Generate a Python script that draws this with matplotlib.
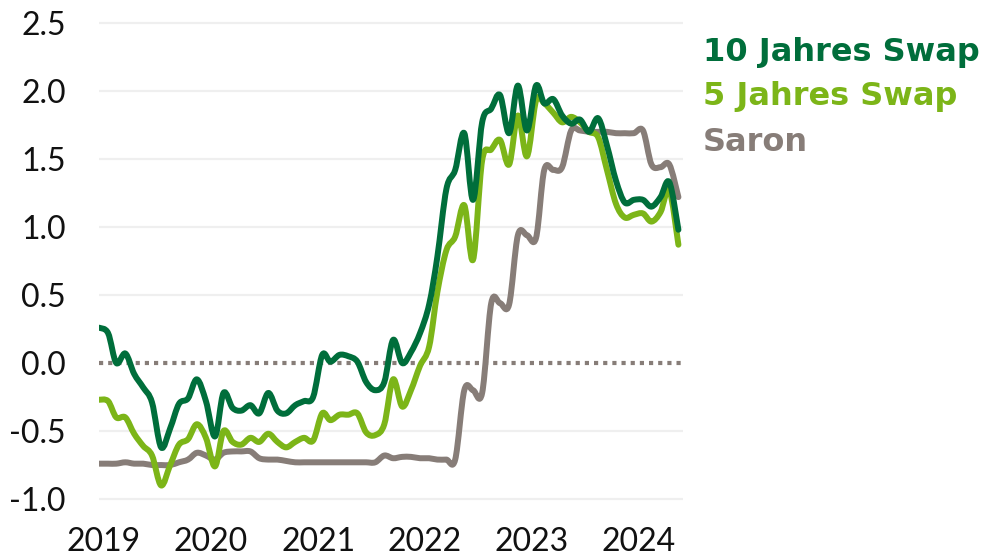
import matplotlib
matplotlib.use("Agg")
import matplotlib.pyplot as plt
import matplotlib.dates as mdates
import matplotlib.transforms as mtransforms
from matplotlib.path import Path
from matplotlib.patches import PathPatch
import numpy as np
import pandas as pd

plt.rcParams['axes.unicode_minus'] = False

# monthly values, Jan 2019 - Jun 2024
dates = pd.date_range('2019-01-01', periods=66, freq='MS')

swap_10y = [0.26, 0.22, 0.00, 0.07, -0.08, -0.18, -0.29, -0.62, -0.48, -0.30,
            -0.26, -0.12, -0.28, -0.54, -0.22, -0.33, -0.35, -0.31, -0.37, -0.22,
            -0.35, -0.37, -0.31, -0.28, -0.25, 0.06, 0.01, 0.06, 0.05, 0.01,
            -0.14, -0.20, -0.14, 0.17, 0.00, 0.08, 0.22, 0.43, 0.78, 1.28,
            1.42, 1.69, 1.20, 1.77, 1.87, 1.97, 1.69, 2.04, 1.71, 2.04,
            1.91, 1.94, 1.82, 1.76, 1.79, 1.70, 1.80, 1.60, 1.34, 1.18,
            1.20, 1.20, 1.15, 1.22, 1.33, 0.98]

swap_5y = [-0.27, -0.28, -0.40, -0.40, -0.52, -0.61, -0.68, -0.90, -0.75, -0.60,
           -0.56, -0.45, -0.55, -0.76, -0.50, -0.58, -0.60, -0.55, -0.58, -0.52,
           -0.58, -0.62, -0.58, -0.55, -0.57, -0.37, -0.42, -0.38, -0.38, -0.37,
           -0.51, -0.53, -0.45, -0.12, -0.32, -0.20, -0.02, 0.12, 0.52, 0.83,
           0.93, 1.16, 0.76, 1.49, 1.57, 1.64, 1.46, 1.82, 1.52, 1.93,
           1.91, 1.84, 1.77, 1.81, 1.77, 1.70, 1.66, 1.42, 1.17, 1.07,
           1.09, 1.10, 1.04, 1.11, 1.27, 0.87]

saron = [-0.74, -0.74, -0.74, -0.73, -0.74, -0.74, -0.75, -0.75, -0.75, -0.73,
         -0.71, -0.66, -0.68, -0.71, -0.66, -0.65, -0.65, -0.65, -0.70, -0.71,
         -0.71, -0.72, -0.73, -0.73, -0.73, -0.73, -0.73, -0.73, -0.73, -0.73,
         -0.73, -0.73, -0.68, -0.70, -0.69, -0.69, -0.70, -0.70, -0.71, -0.71,
         -0.71, -0.20, -0.20, -0.22, 0.44, 0.44, 0.43, 0.94, 0.94, 0.92,
         1.42, 1.42, 1.44, 1.71, 1.71, 1.70, 1.70, 1.70, 1.69, 1.69,
         1.69, 1.71, 1.46, 1.44, 1.46, 1.22]

labels = ['10 Jahres Swap', '5 Jahres Swap', 'Saron']
colors = ['#006E3B', '#7CB518', '#877D78']
years = [2019, 2020, 2021, 2022, 2023, 2024]
yticks = [-1.0, -0.5, 0.0, 0.5, 1.0, 1.5, 2.0, 2.5]


def smooth_path(x, y):
    # excel-like smoothed line as bezier curves
    pts = np.column_stack([x, y])
    n = len(pts)
    verts = [pts[0]]
    codes = [Path.MOVETO]
    for i in range(n - 1):
        p0 = pts[i - 1] if i > 0 else pts[i]
        p1 = pts[i]
        p2 = pts[i + 1]
        p3 = pts[i + 2] if i + 2 < n else pts[i + 1]
        verts += [p1 + (p2 - p0) / 6, p2 - (p3 - p1) / 6, p2]
        codes += [Path.CURVE4] * 3
    return Path(verts, codes)


fig = plt.figure(figsize=(9.94, 5.58), dpi=100)
ax = fig.add_axes([0.0996, 0.0935, 0.5875, 0.8774])

xnum = mdates.date2num(dates)
left = mdates.date2num(pd.Timestamp('2019-01-01'))
ax.set_xlim(left, left + 1993.6)
ax.set_ylim(-1.05, 2.55)

for v in yticks:
    if v != 0:
        ax.axhline(v, color='#EFEFEF', lw=1.6, zorder=0)
ax.axhline(0, color='#877D78', lw=3, linestyle=(0, (1, 1.2)), zorder=1)

for series, col, z in [(saron, colors[2], 2), (swap_5y, colors[1], 3), (swap_10y, colors[0], 4)]:
    patch = PathPatch(smooth_path(xnum, np.array(series)), fill=False,
                      edgecolor=col, lw=4.3, capstyle='round', joinstyle='round', zorder=z)
    ax.add_patch(patch)

ax.set_yticks(yticks)
ax.set_yticklabels(['%.1f' % v for v in yticks], fontsize=23, family='Lato', color='#111111')
ax.set_xticks([mdates.date2num(pd.Timestamp('%d-01-01' % y)) for y in years])
ax.set_xticklabels([str(y) for y in years], fontsize=23, family='Lato', color='#111111')
ax.tick_params(length=0)
ax.tick_params(axis='y', pad=24)
ax.tick_params(axis='x', pad=15)
offset = mtransforms.ScaledTranslation(5 / 100, 0, fig.dpi_scale_trans)
for lab in ax.get_xticklabels():
    lab.set_transform(lab.get_transform() + offset)
for s in ax.spines.values():
    s.set_visible(False)

for i, (lab, col) in enumerate(zip(labels, colors)):
    fig.text(703 / 994, 1 - (52 + i * 45) / 558, lab, color=col, fontsize=23,
             fontweight='bold', family='DejaVu Sans', va='center', ha='left')

fig.savefig('out.png', dpi=100)
